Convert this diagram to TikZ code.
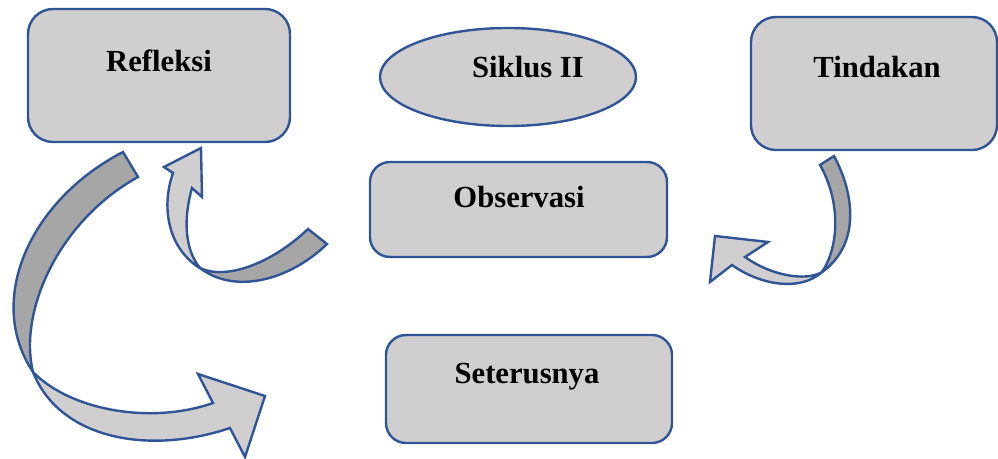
\documentclass[tikz,border=0pt]{standalone}
\usepackage{fontspec}
\setmainfont{Liberation Serif}[BoldFont={Liberation Serif Bold}]
\newfontfamily\lblfont{Liberation Serif Bold}
\usetikzlibrary{shapes.geometric}
\definecolor{boxfill}{HTML}{D0CECE}
\definecolor{darkfill}{HTML}{A6A6A6}
\definecolor{edge}{HTML}{2F5597}
\begin{document}
\begin{tikzpicture}[x=0.75pt,y=-0.75pt,
  stepbox/.style={draw=edge,fill=boxfill,line width=1.8pt,rectangle,inner sep=0pt},
  lbl/.style={font=\lblfont\fontsize{23}{26}\selectfont,inner sep=0pt,anchor=center},
  backside/.style={draw=edge,fill=darkfill,line width=1.8pt},
  frontside/.style={draw=edge,fill=boxfill,line width=1.8pt}]
\useasboundingbox (0,0) rectangle (998,459);
% boxes
\node[stepbox,rounded corners=18.75pt,minimum width=196.5pt,minimum height=99.75pt] (refleksi) at (159,75.5) {};
\node[lbl] (refleksiT) at (159,61) {Refleksi};
\node[stepbox,ellipse,minimum width=192pt,minimum height=73.5pt] (siklus) at (508,77) {};
\node[lbl] (siklusT) at (528,67) {Siklus II};
\node[stepbox,rounded corners=18.75pt,minimum width=184.5pt,minimum height=99.75pt] (tindakan) at (874,83.5) {};
\node[lbl] (tindakanT) at (877,67) {Tindakan};
\node[stepbox,rounded corners=15pt,minimum width=222.75pt,minimum height=71.25pt] (observasi) at (518.5,209.5) {};
\node[lbl] (observasiT) at (519,197) {Observasi};
\node[stepbox,rounded corners=15pt,minimum width=214.5pt,minimum height=81pt] (seterusnya) at (529,389) {};
\node[lbl] (seterusnyaT) at (527,377) {Seterusnya};
% big left arrow (Refleksi -> Seterusnya)
\draw[backside] (123,152) .. controls (30,200) and (-15,300) .. (33,372)
   .. controls (18,310) and (60,220) .. (138,177) -- cycle;
\draw[frontside] (33,372) .. controls (70,410) and (150,425) .. (213,403)
   -- (198,374) -- (265,396) -- (245,457) -- (230,428)
   .. controls (150,455) and (60,440) .. (33,372) -- cycle;
% small arrow (Observasi -> Refleksi)
\draw[backside] (308,229) -- (327,244) .. controls (290,280) and (235,295) .. (200,268)
   .. controls (225,280) and (270,265) .. (308,229) -- cycle;
\draw[frontside] (200,268) .. controls (170,250) and (160,210) .. (173,173)
   -- (164,167) -- (201,148) -- (202,197) -- (192,188)
   .. controls (183,220) and (185,250) .. (200,268) -- cycle;
% right arrow (Tindakan -> Observasi)
\draw[backside] (820,165) -- (834,156) .. controls (855,195) and (860,245) .. (822,272)
   .. controls (840,245) and (840,200) .. (820,165) -- cycle;
\draw[frontside] (822,272) .. controls (805,282) and (770,275) .. (745,257)
   -- (768,242) -- (715,236) -- (710,282) -- (732,265)
   .. controls (760,285) and (800,292) .. (822,272) -- cycle;
\end{tikzpicture}
\end{document}
